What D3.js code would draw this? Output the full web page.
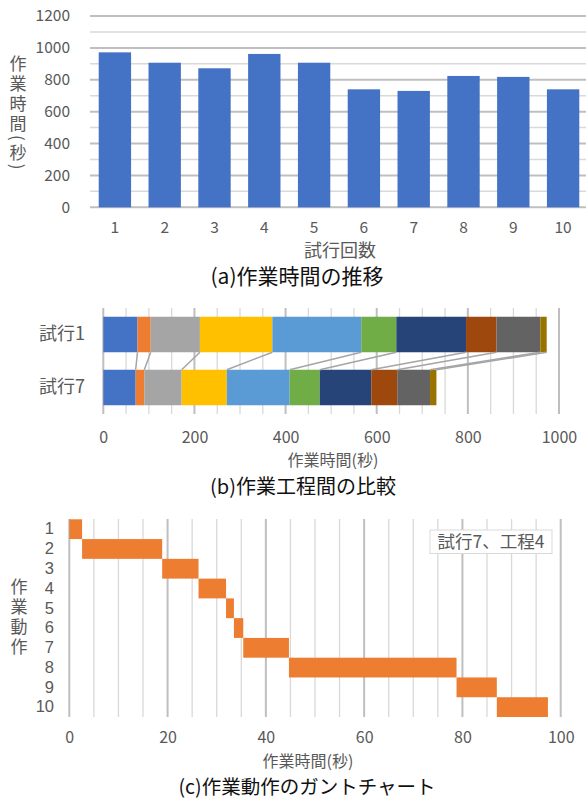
<!DOCTYPE html>
<html>
<head>
<meta charset="utf-8">
<script src="https://cdn.jsdelivr.net/npm/d3@7"></script>
<style>
  body { margin: 0; background: #fff; }
  text { font-family: "Noto Sans CJK JP", "Noto Sans", sans-serif; }
</style>
</head>
<body>
<div id="chart"></div>
<script>
// (a) total time per trial
const trials = ["1", "2", "3", "4", "5", "6", "7", "8", "9", "10"];
const totalTime = [972, 907, 872, 962, 907, 740, 730, 824, 818, 740];

// (b) process breakdown, trial 1 vs trial 7
const compareTrials = ["試行1", "試行7"];
const processKeys = ["p1", "p2", "p3", "p4", "p5", "p6", "p7", "p8", "p9", "p10"];
const trial1Proc = [75, 29, 108, 159, 195, 77, 153, 67, 96, 14];
const trial7Proc = [71, 19, 82, 99, 138, 66, 113, 57, 72, 14];
const procColors = ["#4472C4", "#ED7D31", "#A5A5A5", "#FFC000", "#5B9BD5",
                    "#70AD47", "#264478", "#9E480E", "#636363", "#997300"];

// (c) gantt of motions, trial 7 process 4
const motions = ["1", "2", "3", "4", "5", "6", "7", "8", "9", "10"];
const motionStart = [0, 2.6, 18.9, 26.3, 31.9, 33.5, 35.4, 44.7, 78.8, 87.0];
const motionEnd = [2.6, 18.9, 26.3, 31.9, 33.5, 35.4, 44.7, 78.8, 87.0, 97.4];

const W = 586, H = 800;
const tickColor = "#595959";

const svg = d3.select("#chart").append("svg")
  .attr("width", W)
  .attr("height", H);

svg.append("rect").attr("width", W).attr("height", H).attr("fill", "#fff");

function vTitle(x, y, label) {
  svg.append("text")
    .attr("x", x)
    .attr("y", y)
    .attr("fill", tickColor)
    .attr("font-size", "17px")
    .style("writing-mode", "vertical-rl")
    .style("letter-spacing", "3px")
    .text(label);
}

function centerText(x, y, size, color, label) {
  svg.append("text")
    .attr("x", x)
    .attr("y", y)
    .attr("dy", "0.35em")
    .attr("text-anchor", "middle")
    .attr("font-size", size)
    .attr("fill", color)
    .text(label);
}

function styleAxis(g, size, family) {
  g.select(".domain").remove();
  g.selectAll("line").remove();
  g.selectAll("text")
    .attr("font-size", size)
    .style("font-family", family || "'Noto Sans CJK JP', 'Noto Sans', sans-serif")
    .attr("fill", tickColor);
}

// ---------- (a) ----------
const xa = d3.scaleBand().domain(trials).range([90, 588]).paddingInner(0.35).paddingOuter(0.175);
const ya = d3.scaleLinear().domain([0, 1200]).range([207.3, 16]);

svg.append("g").selectAll("line")
  .data(d3.range(0, 1201, 100))
  .enter().append("line")
    .attr("x1", 90).attr("x2", 588)
    .attr("y1", d => ya(d)).attr("y2", d => ya(d))
    .attr("stroke", d => d % 200 === 0 ? "#bfbfbf" : "#d9d9d9")
    .attr("stroke-width", d => d % 200 === 0 ? 2 : 1.5);

svg.append("g").selectAll("rect")
  .data(totalTime)
  .enter().append("rect")
    .attr("x", (d, i) => xa(trials[i]))
    .attr("y", d => ya(d))
    .attr("width", xa.bandwidth())
    .attr("height", d => ya(0) - ya(d))
    .attr("fill", "#4472C4");

svg.append("g")
  .attr("transform", "translate(70,0)")
  .call(d3.axisLeft(ya).tickValues(d3.range(0, 1201, 200)).tickFormat(d3.format("d")).tickSize(0).tickPadding(0))
  .call(g => styleAxis(g, "15.5px"));

svg.append("g")
  .attr("transform", "translate(0,228)")
  .call(d3.axisBottom(xa).tickSize(0))
  .call(g => styleAxis(g, "15.5px"))
  .call(g => g.selectAll("text").attr("y", 0).attr("dy", "0.35em"));

vTitle(18, 55, "作業時間(秒)");
centerText(340, 251, "18px", tickColor, "試行回数");
centerText(297, 277, "21px", "#111", "(a)作業時間の推移");

// ---------- (b) ----------
const xb = d3.scaleLinear().domain([0, 1000]).range([103.3, 559]);
const yb = d3.scaleBand().domain(compareTrials).range([308, 414]).paddingInner(0.33).paddingOuter(0.165);

const procTable = compareTrials.map((t, j) => {
  const row = {trial: t};
  const vals = j === 0 ? trial1Proc : trial7Proc;
  processKeys.forEach((k, i) => row[k] = vals[i]);
  return row;
});
const stacked = d3.stack().keys(processKeys)(procTable);

svg.append("g").selectAll("line")
  .data(d3.range(0, 1001, 50))
  .enter().append("line")
    .attr("x1", d => xb(d)).attr("x2", d => xb(d))
    .attr("y1", 308).attr("y2", 414)
    .attr("stroke", d => d % 200 === 0 ? "#bfbfbf" : "#d9d9d9")
    .attr("stroke-width", d => d % 200 === 0 ? 2 : 1.3);

svg.append("g").selectAll("g")
  .data(stacked)
  .enter().append("g")
    .attr("fill", (d, i) => procColors[i])
  .selectAll("rect")
  .data(d => d)
  .enter().append("rect")
    .attr("x", d => xb(d[0]))
    .attr("y", d => yb(d.data.trial))
    .attr("width", d => xb(d[1]) - xb(d[0]))
    .attr("height", yb.bandwidth());

// series lines between the two stacked bars
svg.append("g").selectAll("line")
  .data(stacked)
  .enter().append("line")
    .attr("x1", d => xb(d[0][1]))
    .attr("y1", yb(compareTrials[0]) + yb.bandwidth())
    .attr("x2", d => xb(d[1][1]))
    .attr("y2", yb(compareTrials[1]))
    .attr("stroke", "#a5a5a5")
    .attr("stroke-width", 1.5);

svg.append("g")
  .attr("transform", "translate(85,0)")
  .call(d3.axisLeft(yb).tickSize(0).tickPadding(0))
  .call(g => styleAxis(g, "18px"));

svg.append("g")
  .attr("transform", "translate(0,437)")
  .call(d3.axisBottom(xb).tickValues(d3.range(0, 1001, 200)).tickFormat(d3.format("d")).tickSize(0))
  .call(g => styleAxis(g, "16px"))
  .call(g => g.selectAll("text").attr("y", 0).attr("dy", "0.35em"));

centerText(333, 460.5, "16px", tickColor, "作業時間(秒)");
centerText(303, 487, "20px", "#111", "(b)作業工程間の比較");

// ---------- (c) ----------
const xc = d3.scaleLinear().domain([0, 100]).range([69.3, 560.7]);
const yc = d3.scaleBand().domain(motions).range([519.3, 717]).padding(0);

svg.append("g").selectAll("line")
  .data(d3.range(0, 101, 5))
  .enter().append("line")
    .attr("x1", d => xc(d)).attr("x2", d => xc(d))
    .attr("y1", 519).attr("y2", 717)
    .attr("stroke", d => d % 20 === 0 ? "#bfbfbf" : "#d9d9d9")
    .attr("stroke-width", d => d % 20 === 0 ? 2 : 1.3);

svg.append("g").selectAll("rect")
  .data(motions)
  .enter().append("rect")
    .attr("x", (d, i) => xc(motionStart[i]))
    .attr("y", d => yc(d))
    .attr("width", (d, i) => xc(motionEnd[i]) - xc(motionStart[i]))
    .attr("height", yc.bandwidth())
    .attr("fill", "#ED7D31");

// rows are tighter than a CJK line box, so the row numbers use a compact latin face
svg.append("g")
  .attr("transform", "translate(54,0)")
  .call(d3.axisLeft(yc).tickSize(0).tickPadding(0))
  .call(g => styleAxis(g, "16.5px", "'Liberation Sans', Arial, sans-serif"));

svg.append("g")
  .attr("transform", "translate(0,737.5)")
  .call(d3.axisBottom(xc).tickValues(d3.range(0, 101, 20)).tickSize(0))
  .call(g => styleAxis(g, "16px"))
  .call(g => g.selectAll("text").attr("y", 0).attr("dy", "0.35em"));

vTitle(19, 578, "作業動作");

const legend = svg.append("g");
legend.append("rect")
  .attr("x", 430).attr("y", 530)
  .attr("width", 122).attr("height", 23.5)
  .attr("fill", "#fff")
  .attr("stroke", "#d9d9d9")
  .attr("stroke-width", 1);
centerText(491, 542, "17.5px", tickColor, "試行7、工程4");

centerText(308, 761, "16px", tickColor, "作業時間(秒)");
centerText(307, 787.5, "19.5px", "#111", "(c)作業動作のガントチャート");
</script>
</body>
</html>
